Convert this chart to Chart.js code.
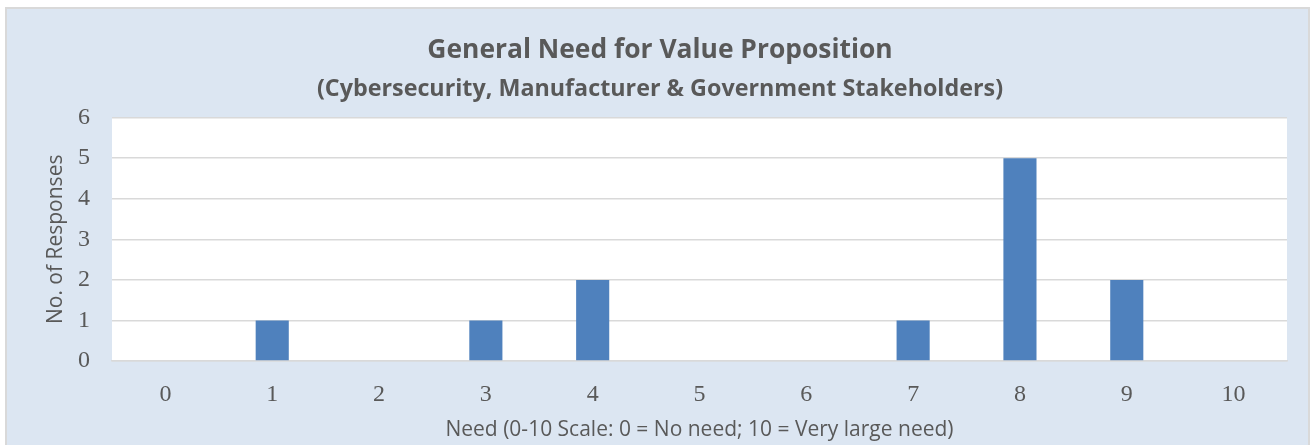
<!DOCTYPE html>
<html><head><meta charset="utf-8">
<style>html,body{margin:0;padding:0;background:#fff}</style>
<script src="https://cdn.jsdelivr.net/npm/chart.js@4/dist/chart.umd.min.js"></script>
</head><body>
<canvas id="c" width="1315" height="445"></canvas>
<script>
const categories = ['0','1','2','3','4','5','6','7','8','9','10'];
const responses = [0,1,0,1,2,0,0,1,5,2,0];
const yMin = 0, yMax = 6, yStep = 1;
const titleText = 'General Need for Value Proposition';
const subtitleText = '(Cybersecurity, Manufacturer & Government Stakeholders)';
const xTitle = 'Need (0-10 Scale: 0 = No need; 10 = Very large need)';
const yTitle = 'No. of Responses';

const sans = '"Open Sans", sans-serif';
const serif = '"Liberation Serif", "DejaVu Serif", serif';
const grey = '#595959';

const bgPlugin = {
  id: 'bg',
  beforeDraw(chart) {
    const {ctx, chartArea: a} = chart;
    ctx.save();
    ctx.fillStyle = '#ffffff';
    ctx.fillRect(0, 0, chart.width, chart.height);
    ctx.fillStyle = '#dce6f2';
    ctx.fillRect(6, 8, chart.width - 12, chart.height);
    ctx.strokeStyle = '#d9d9d9';
    ctx.lineWidth = 2;
    ctx.strokeRect(6, 8, chart.width - 12, chart.height + 10);
    ctx.fillStyle = '#ffffff';
    ctx.fillRect(a.left, a.top, a.right - a.left, a.bottom - a.top);
    ctx.restore();
  }
};

new Chart(document.getElementById('c'), {
  type: 'bar',
  data: {
    labels: categories,
    datasets: [{
      data: responses,
      backgroundColor: '#4f81bd',
      borderWidth: 0,
      barPercentage: 0.31,
      categoryPercentage: 1.0
    }]
  },
  options: {
    responsive: false,
    animation: false,
    layout: { padding: { top: 0, right: 28, bottom: 0, left: 33 } },
    plugins: {
      legend: { display: false },
      tooltip: { enabled: false },
      title: {
        display: true, text: titleText, color: grey,
        font: { family: sans, size: 26.4, weight: 'bold', lineHeight: 1.2 },
        padding: { top: 34.5, bottom: 0 }
      },
      subtitle: {
        display: true, text: subtitleText, color: grey,
        font: { family: sans, size: 23.3, weight: 'bold', lineHeight: 1.2 },
        padding: { top: 9, bottom: 14.5 }
      }
    },
    scales: {
      x: {
        grid: { display: false, drawTicks: false },
        border: { display: true, color: '#d9d9d9', width: 1.5 },
        ticks: { color: grey, font: { family: serif, size: 24 }, padding: 19 },
        title: { display: true, text: xTitle, color: grey,
                 font: { family: sans, size: 21, lineHeight: 1.2 }, padding: { top: 0, bottom: 2.4 } },
        afterFit(s) { s.height = 84; }
      },
      y: {
        min: yMin, max: yMax,
        ticks: { stepSize: yStep, color: grey, font: { family: serif, size: 24 }, padding: 22 },
        grid: { color: '#d9d9d9', lineWidth: 1.5, drawTicks: false },
        border: { display: false },
        title: { display: true, text: yTitle, color: grey,
                 font: { family: sans, size: 21, lineHeight: 1.2 }, padding: { top: 10.5, bottom: 0 } },
        afterFit(s) { s.width = 79; }
      }
    }
  },
  plugins: [bgPlugin]
});
</script>
</body></html>
